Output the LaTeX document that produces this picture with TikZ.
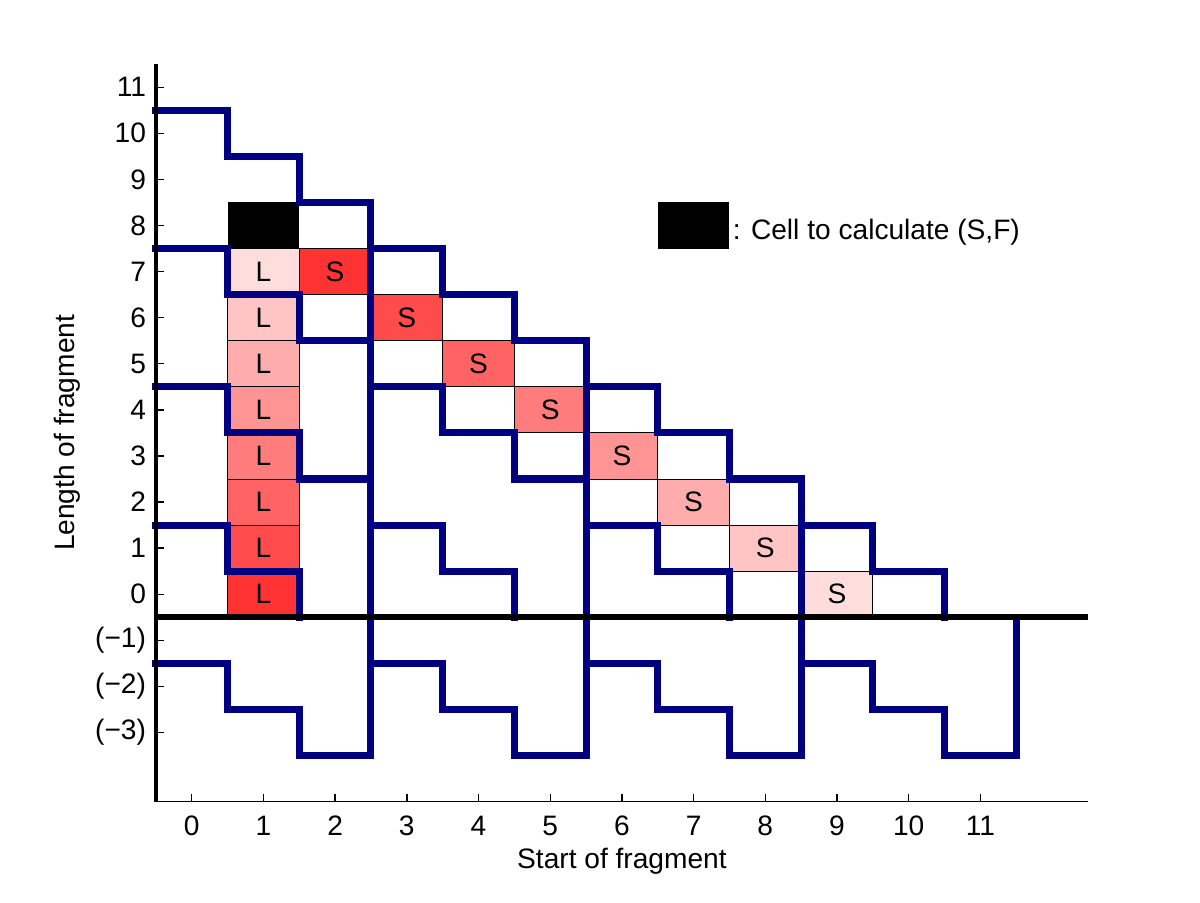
\documentclass[tikz,border=0pt]{standalone}
\usepackage{fontspec}
\setmainfont{Liberation Sans}
\definecolor{navyline}{RGB}{0,0,128}

\begin{document}
\begin{tikzpicture}[x=0.896cm, y=0.576cm, font=\fontsize{10}{12}\selectfont,
    cellbox/.style={draw=black, line width=0.35pt},
    stair/.style={navyline, line width=2.5pt, line cap=rect, line join=miter}]
    \useasboundingbox (-2.674,-6.696) rectangle (14.063,12.892);
    % Các ô L
    \foreach \y in {0,...,7} {
        \pgfmathsetmacro\shade{80-9.5*\y}
        \draw[cellbox, fill=red!\shade] (0.5,\y-0.5) rectangle (1.5,\y+0.5);
        \node (L\y) at (1,\y) {L};
    }
    % Các ô S
    \foreach \k in {0,...,7} {
        \pgfmathsetmacro\shade{80-9.5*\k}
        \pgfmathtruncatemacro\sx{2+\k}
        \pgfmathtruncatemacro\sy{7-\k}
        \draw[cellbox, fill=red!\shade] (\sx-0.5,\sy-0.5) rectangle (\sx+0.5,\sy+0.5);
        \node (S\k) at (\sx,\sy) {S};
    }
    \fill (0.5,7.5) rectangle (1.5,8.5);
    % Đường bậc thang
    \foreach \k in {0,...,3} {
        \pgfmathsetmacro\xa{3*\k-0.5}
        \pgfmathsetmacro\ytop{8.5-3*\k}
        \draw[stair] (\xa,-1.5) -| (\xa+1,-2.5) -| (\xa+2,-3.5) -| (\xa+3,\ytop);
        \foreach \j in {\k,...,3} {
            \pgfmathsetmacro\s{10.5-3*\j}
            \pgfmathsetmacro\xe{\s>2 ? \xa+3 : \xa+2}
            \draw[stair] (\xa,\s) -| (\xa+1,\s-1) -| (\xa+2,\s-2) -- (\xe,\s-2);
        }
    }
    % Hệ trục tọa độ
    \draw[line width=1.4pt] (-0.5,-4.5) -- (-0.5,11.5);
    \draw[line width=0.5pt] (-0.5,-4.5) -- (12.5,-4.5);
    \draw[line width=2.1pt] (-0.5,-0.5) -- (12.5,-0.5);
    % Đánh dấu các mốc
    \foreach \x in {0,...,11} {
        \draw[line width=0.5pt] (\x,-4.5) -- ++(0,0.1cm);
        \node (xt\x) at (\x,-5.03) {\x};
    }
    \foreach \y in {0,...,11} {
        \draw[line width=0.5pt] (-0.5,\y) -- ++(0.1cm,0);
        \node[anchor=east, inner sep=0pt] (yt\y) at (-0.63,\y) {\y};
    }
    \foreach \y in {1,2,3} {
        \draw[line width=0.5pt] (-0.5,-\y) -- ++(0.1cm,0);
        \node[anchor=east, inner sep=0pt] (ytm\y) at (-0.63,-\y) {(−\y)};
    }
    \node (xlab) at (6,-5.8) {Start of fragment};
    \node[rotate=90] (ylab) at (-1.74,3.5) {Length of fragment};
    % Chú thích
    \fill (6.5,7.5) rectangle (7.5,8.5);
    \node[anchor=west, inner sep=1pt] (legtxt) at (7.5,7.85) {: Cell to calculate (S,F)};
\end{tikzpicture}
\end{document}
